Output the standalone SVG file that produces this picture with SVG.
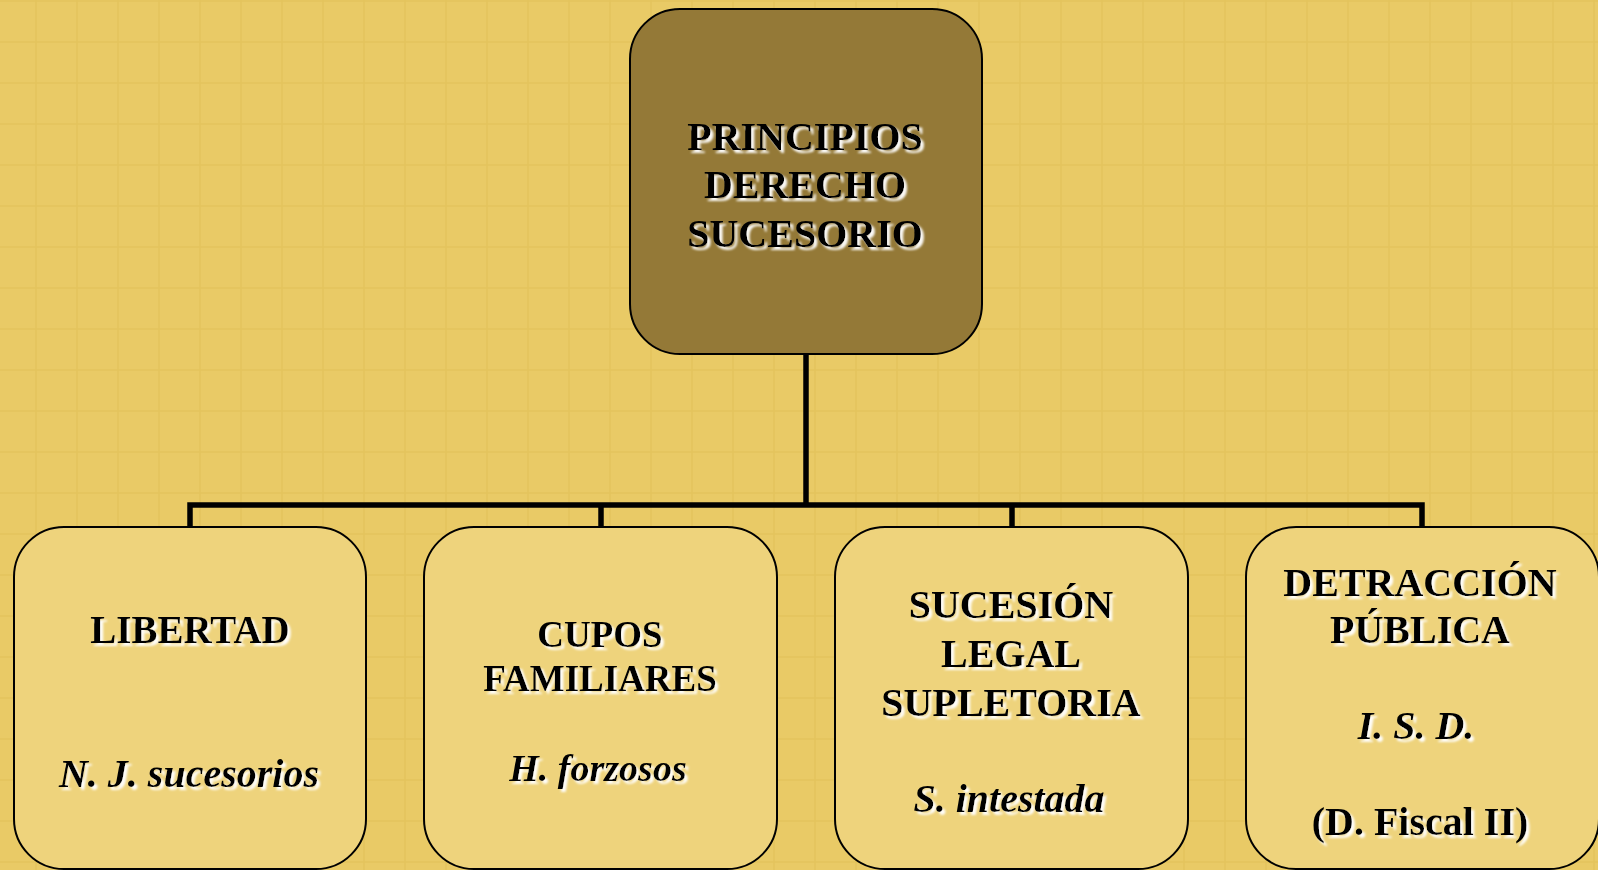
<svg xmlns="http://www.w3.org/2000/svg" width="1598" height="870" viewBox="0 0 1598 870">
<defs>
<pattern id="grid" patternUnits="userSpaceOnUse" x="35" y="41" width="41" height="41">
<rect width="41" height="41" fill="#E9CA66"/>
<rect x="0" y="0" width="2" height="41" fill="#E4C35D" opacity="0.7"/>
<rect x="0" y="0" width="41" height="2" fill="#E4C35D" opacity="0.7"/>
</pattern>
<filter id="glow" x="-10%" y="-30%" width="120%" height="160%">
<feGaussianBlur in="SourceAlpha" stdDeviation="1.2" result="b"/>
<feOffset in="b" dx="2.5" dy="2.5" result="o"/>
<feFlood flood-color="#FFFFFF" flood-opacity="0.95"/>
<feComposite in2="o" operator="in" result="s"/>
<feMerge><feMergeNode in="s"/><feMergeNode in="SourceGraphic"/></feMerge>
</filter>
<style>
.box{fill:#EED37C;stroke:#000;stroke-width:2}
.root{fill:#947937;stroke:#000;stroke-width:2}
.t{font-family:"Liberation Serif","Times New Roman",serif;font-weight:bold;font-size:40px;fill:#000;text-anchor:middle;filter:url(#glow)}
.i{font-style:italic}
.conn{fill:none;stroke:#000;stroke-width:5.5}
</style>
</defs>
<rect width="1598" height="870" fill="url(#grid)"/>
<g id="connectors">
<path class="conn" d="M806 354 V505"/>
<path class="conn" d="M190 527 V505 H1422 V527"/>
<path class="conn" d="M601 505 V527"/>
<path class="conn" d="M1012 505 V527"/>
</g>
<g id="root">
<rect class="root" x="630" y="9" width="352" height="345" rx="50" ry="50"/>
<text class="t" x="805" y="150">PRINCIPIOS</text>
<text class="t" x="805" y="198">DERECHO</text>
<text class="t" x="805" y="247">SUCESORIO</text>
</g>
<g id="libertad">
<rect class="box" x="14" y="527" width="352" height="342" rx="50" ry="50"/>
<text class="t" x="190" y="643" style="font-size:39px">LIBERTAD</text>
<text class="t i" x="189" y="787">N. J. sucesorios</text>
</g>
<g id="cupos">
<rect class="box" x="424" y="527" width="353" height="342" rx="50" ry="50"/>
<text class="t" x="600" y="647" style="font-size:37px">CUPOS</text>
<text class="t" x="600" y="691" style="font-size:37px">FAMILIARES</text>
<text class="t i" x="598" y="781" style="font-size:38px">H. forzosos</text>
</g>
<g id="sucesion">
<rect class="box" x="835" y="527" width="353" height="342" rx="50" ry="50"/>
<text class="t" x="1011" y="618">SUCESIÓN</text>
<text class="t" x="1011" y="667">LEGAL</text>
<text class="t" x="1011" y="716">SUPLETORIA</text>
<text class="t i" x="1009" y="812">S. intestada</text>
</g>
<g id="detraccion">
<rect class="box" x="1246" y="527" width="353" height="342" rx="50" ry="50"/>
<text class="t" x="1420" y="596">DETRACCIÓN</text>
<text class="t" x="1420" y="643">PÚBLICA</text>
<text class="t i" x="1416" y="739">I. S. D.</text>
<text class="t" x="1420" y="835">(D. Fiscal II)</text>
</g>
</svg>
